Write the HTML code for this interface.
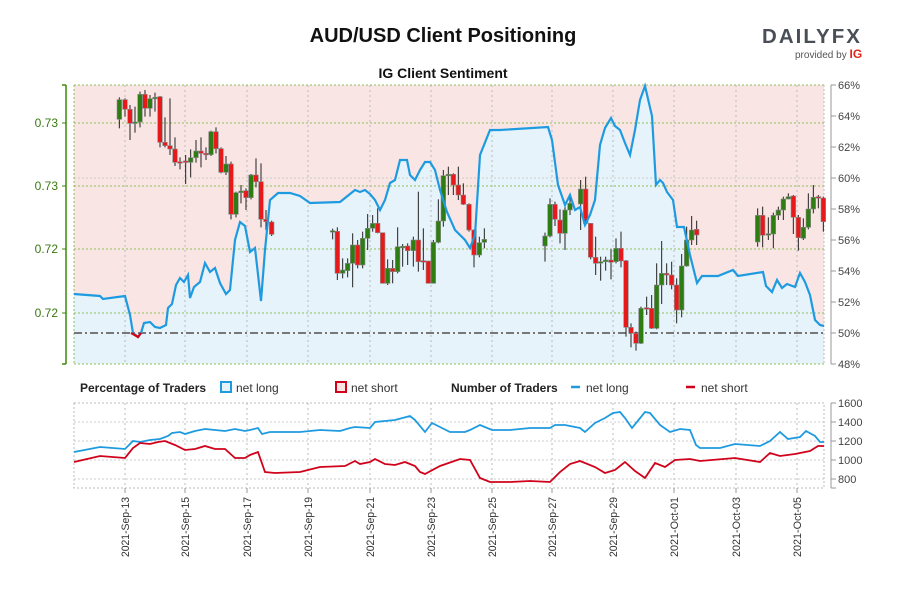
<!DOCTYPE html>
<html><head><meta charset="utf-8"><style>
body{margin:0;background:#fff;width:900px;height:600px;overflow:hidden;font-family:"Liberation Sans",sans-serif}
</style></head><body>
<svg id="s" width="900" height="600" xmlns="http://www.w3.org/2000/svg" font-family="Liberation Sans, sans-serif">
<text x="443" y="42" text-anchor="middle" font-size="20" font-weight="bold" fill="#111">AUD/USD Client Positioning</text>
<text x="443" y="78" text-anchor="middle" font-size="14" font-weight="bold" fill="#111">IG Client Sentiment</text>
<text x="762" y="43" font-size="20" font-weight="bold" fill="#4a4f57" letter-spacing="2" textLength="100" lengthAdjust="spacingAndGlyphs">DAILYFX</text>
<text x="795" y="58" font-size="10" fill="#555">provided by <tspan fill="#e2231a" font-weight="bold" font-size="12">IG</tspan></text>
<rect x="74" y="85" width="750" height="279" fill="#fae5e5"/>
<g id="main"></g>
<g id="bot"></g>
</svg>
<script>
const NS="http://www.w3.org/2000/svg";
function el(p,t,a,txt){const e=document.createElementNS(NS,t);for(const k in a)e.setAttribute(k,a[k]);if(txt!=null)e.textContent=txt;p.appendChild(e);return e;}
const m=document.getElementById('main'),b=document.getElementById('bot');
const pl=[[74,294],[100,296],[103,299],[125,296],[130,315],[133,333],[138,337],[141,333],[144,323],[150,322],[155,327],[160,328],[166,325],[168,308],[172,304],[176,285],[180,278],[184,282],[188,275],[190,298],[194,287],[200,282],[205,263],[210,272],[215,268],[220,283],[226,294],[230,290],[235,240],[240,222],[245,226],[250,252],[255,248],[261,301],[265,250],[270,200],[278,193],[290,193],[300,196],[310,203],[340,202],[355,190],[360,192],[365,190],[370,194],[375,200],[380,210],[385,200],[390,183],[395,180],[400,160],[407,160],[410,175],[415,180],[420,170],[425,162],[430,162],[435,170],[440,190],[447,212],[455,230],[465,240],[470,248],[475,235],[480,155],[490,130],[500,130],[548,127],[552,140],[558,185],[565,205],[570,195],[575,210],[580,207],[585,225],[590,215],[595,200],[600,145],[605,128],[611,118],[615,126],[620,130],[625,143],[630,155],[635,130],[640,100],[645,86],[652,116],[656,185],[660,180],[663,183],[667,192],[673,200],[677,227],[684,227],[690,255],[697,283],[702,276],[718,276],[733,270],[738,276],[763,272],[766,286],[772,292],[777,280],[782,288],[787,284],[795,287],[800,273],[805,282],[810,295],[815,320],[820,325],[824,326]];
el(m,'polygon',{points:pl.map(p=>p.join(',')).join(' ')+' 824,364 74,364',fill:'#e6f3fb'});
[123,186,249,313].forEach(y=>el(m,'line',{x1:74,x2:824,y1:y,y2:y,stroke:'#8fbf5a','stroke-dasharray':'2,2','stroke-width':1}));
[85,364].forEach(y=>el(m,'line',{x1:74,x2:824,y1:y,y2:y,stroke:'#8fbf5a','stroke-dasharray':'2,2'}));
el(m,'line',{x1:74,x2:824,y1:178,y2:178,stroke:'#ccc','stroke-dasharray':'2,2'});
const dx=[125,185,247,308,370,431,492,552,613,674,736,797];
dx.forEach(x=>{el(m,'line',{x1:x,x2:x,y1:85,y2:364,stroke:'#bbb','stroke-dasharray':'2,3'});el(b,'line',{x1:x,x2:x,y1:403,y2:488,stroke:'#bbb','stroke-dasharray':'2,3'});});
el(m,'line',{x1:74,x2:74,y1:85,y2:364,stroke:'#8fbf5a','stroke-dasharray':'2,2'});
el(m,'line',{x1:824,x2:824,y1:85,y2:364,stroke:'#bbb','stroke-dasharray':'2,2'});
el(m,'line',{x1:74,x2:824,y1:333,y2:333,stroke:'#777','stroke-width':2,'stroke-dasharray':'8,3,2,3'});
const C=[];
function g1(arr,ox,oy,s){arr.forEach(a=>C.push([ox+a[0]/s,a[1],oy+a[2]/s,oy+a[3]/s,oy+a[4]/s,oy+a[5]/s]));}
g1([[358,'g',119,178,112,205],[375,'r',119,148,115,170],[390,'r',148,190,135,240],[405,'g',186,190,140,218],[420,'g',103,186,95,202],[435,'r',103,145,90,170],[450,'g',116,145,105,170],[465,'g',112,116,98,155],[480,'r',110,247,108,262],[495,'r',247,257,172,262],[510,'r',257,267,115,285],[525,'r',267,307,232,318],[540,'r',305,308,292,328],[557,'r',303,307,285,372],[572,'g',293,307,268,352],[588,'g',273,293,240,308],[603,'r',273,280,232,322],[618,'r',280,284,262,300],[633,'g',215,284,212,288],[648,'r',215,266,202,280],[663,'r',266,337,262,340],[678,'g',312,337,288,345],[693,'r',312,463,305,478],[708,'g',398,463,395,472],[723,'g',393,398,375,430],[738,'r',392,413,385,450],[753,'g',345,413,342,418],[768,'r',345,365,295,382],[783,'r',365,478,310,502],[798,'r',478,485,450,510],[815,'r',486,523,482,528]],0,60,3);
g1([[38,'g',242,244,236,268],[52,'r',244,370,232,390],[68,'g',360,370,325,385],[83,'g',340,362,325,382],[98,'g',285,340,250,412],[113,'r',285,345,270,355],[128,'g',265,345,245,355],[143,'g',235,265,192,300],[158,'g',220,235,195,245],[173,'r',220,248,175,250],[188,'r',248,400,248,400],[203,'g',355,400,328,405],[218,'r',355,365,330,400],[233,'g',290,365,232,370],[248,'g',289,291,282,350],[263,'r',288,302,280,345],[280,'g',270,302,260,350],[295,'r',270,335,125,365],[310,'r',332,335,235,360],[325,'r',333,400,333,400],[340,'g',277,400,270,400],[355,'g',213,277,148,280],[370,'g',77,213,60,230],[385,'g',73,75,50,135],[400,'r',73,105,70,135],[415,'r',105,135,50,150],[430,'r',135,163,100,165],[447,'r',163,240,160,245],[462,'r',240,315,238,352],[478,'g',278,315,260,322],[493,'g',268,277,235,295]],320,150,3);
g1([[45,'g',168,198,158,245],[60,'g',73,168,55,172],[75,'r',73,118,65,138],[90,'r',120,160,88,190],[105,'g',90,160,80,210],[120,'g',70,90,50,105],[152,'g',27,72,0,150],[167,'r',27,130,-10,135],[182,'r',130,232,130,238],[197,'r',232,250,170,285],[212,'g',245,248,230,302],[227,'g',240,245,230,272],[243,'r',240,247,208,298],[258,'g',205,245,175,250],[273,'r',205,243,155,262],[288,'r',242,442,240,470],[303,'r',442,460,430,502],[318,'r',460,490,455,512],[333,'g',385,490,380,492],[350,'r',383,385,350,405],[365,'r',385,445,345,447],[380,'g',315,445,250,448],[395,'g',280,315,183,372],[410,'r',280,285,250,315],[425,'r',285,315,245,328],[440,'r',315,390,295,430],[455,'g',258,390,222,412],[470,'g',180,258,140,260],[485,'g',150,180,108,195],[500,'r',148,165,122,195]],530,180,3);
g1([[473,'g',466,546,445,560],[488,'r',466,526,440,562],[505,'g',521,525,472,540],[520,'g',466,522,458,565],[535,'g',450,466,440,480],[550,'g',417,450,410,480],[565,'g',410,417,400,418],[580,'r',408,472,405,522],[595,'r',472,533,465,572],[610,'g',502,535,475,540],[625,'g',447,502,400,508],[640,'g',412,447,375,460],[655,'r',410,414,405,445],[670,'r',414,485,410,515]],600,60,3);
C.forEach(c=>{const[x,col,t,bb,h,l]=c;el(m,'line',{x1:x,x2:x,y1:h,y2:l,stroke:'#222','stroke-width':1});el(m,'rect',{x:x-2.3,y:t,width:4.6,height:Math.max(bb-t,1.5),fill:col=='g'?'#2e7d12':'#e8191a',stroke:'#888','stroke-width':0.6});});
el(m,'polyline',{points:pl.map(p=>p.join(',')).join(' '),fill:'none',stroke:'#1e9be0','stroke-width':2.2});
el(m,'polyline',{points:'131,333 133,334 138,337 141,333',fill:'none',stroke:'#d0021b','stroke-width':2.2});
el(m,'line',{x1:66,x2:66,y1:85,y2:364,stroke:'#3a8a0a','stroke-width':1.5});
[85,364].forEach(y=>el(m,'line',{x1:62,x2:66,y1:y,y2:y,stroke:'#3a8a0a','stroke-width':1.5}));
[[123,'0.73'],[186,'0.73'],[249,'0.72'],[313,'0.72']].forEach(a=>{el(m,'line',{x1:62,x2:66,y1:a[0],y2:a[0],stroke:'#3a8a0a'});el(m,'text',{x:58,y:a[0]+4,'text-anchor':'end','font-size':12,fill:'#3a7a10'},a[1]);});
el(m,'line',{x1:831,x2:831,y1:85,y2:364,stroke:'#999','stroke-width':1});
for(let i=0;i<10;i++){const y=85+i*31;el(m,'line',{x1:831,x2:836,y1:y,y2:y,stroke:'#999'});el(m,'text',{x:838,y:y+4,'font-size':11,fill:'#444'},(66-2*i)+'%');}
el(b,'rect',{x:74,y:403,width:750,height:85,fill:'none',stroke:'#bbb','stroke-dasharray':'2,2'});
[422,441,460,479].forEach(y=>el(b,'line',{x1:74,x2:824,y1:y,y2:y,stroke:'#ccc','stroke-dasharray':'2,2'}));
el(b,'line',{x1:831,x2:831,y1:403,y2:488,stroke:'#999'});
[[403,'1600'],[422,'1400'],[441,'1200'],[460,'1000'],[479,'800']].forEach(a=>{el(b,'line',{x1:831,x2:836,y1:a[0],y2:a[0],stroke:'#999'});el(b,'text',{x:838,y:a[0]+4,'font-size':11,fill:'#444'},a[1]);});
el(b,'line',{x1:831,x2:836,y1:488,y2:488,stroke:'#999'});
const bl=[[74,452],[100,447],[125,449],[133,441],[140,442],[150,440],[160,439],[168,436],[172,433],[180,432],[185,434],[195,431],[205,429],[215,430],[225,431],[235,429],[245,431],[250,430],[258,428],[262,434],[270,432],[280,432],[300,432],[320,430],[340,431],[350,428],[355,427],[370,428],[375,422],[385,421],[395,420],[410,416],[415,420],[425,432],[432,423],[440,427],[450,432],[465,432],[470,430],[480,425],[492,430],[510,430],[530,428],[550,428],[555,425],[565,425],[580,428],[585,432],[595,423],[605,418],[613,413],[620,412],[625,418],[632,428],[645,412],[650,413],[660,425],[670,432],[680,429],[690,430],[696,445],[700,448],[720,448],[735,444],[760,446],[770,441],[780,432],[788,439],[800,437],[806,431],[815,436],[820,442],[824,442]];
const rl=[[74,462],[100,456],[125,458],[133,448],[140,443],[150,444],[158,442],[165,441],[175,445],[185,450],[195,449],[205,446],[215,449],[225,449],[235,458],[245,458],[250,455],[258,452],[265,472],[275,473],[300,472],[320,467],[345,466],[355,461],[360,464],[370,462],[375,459],[385,464],[395,465],[405,462],[415,466],[420,472],[425,474],[440,466],[460,459],[470,460],[480,478],[490,482],[510,482],[530,481],[550,482],[560,472],[570,464],[580,461],[595,467],[605,473],[615,470],[625,462],[635,471],[645,478],[655,463],[665,467],[675,460],[690,459],[700,461],[735,458],[760,462],[770,453],[780,456],[795,454],[810,451],[818,446],[824,446]];
el(b,'polyline',{points:bl.map(p=>p.join(',')).join(' '),fill:'none',stroke:'#1e9be0','stroke-width':1.8});
el(b,'polyline',{points:rl.map(p=>p.join(',')).join(' '),fill:'none',stroke:'#d0021b','stroke-width':1.8});
el(b,'text',{x:80,y:392,'font-size':12,'font-weight':'bold',fill:'#222'},'Percentage of Traders');
el(b,'rect',{x:221,y:382,width:10,height:10,fill:'#e6f3fb',stroke:'#1e9be0','stroke-width':2});
el(b,'text',{x:236,y:392,'font-size':12,fill:'#333'},'net long');
el(b,'rect',{x:336,y:382,width:10,height:10,fill:'#fae5e5',stroke:'#d0021b','stroke-width':2});
el(b,'text',{x:351,y:392,'font-size':12,fill:'#333'},'net short');
el(b,'text',{x:451,y:392,'font-size':12,'font-weight':'bold',fill:'#222'},'Number of Traders');
el(b,'line',{x1:571,x2:580,y1:387,y2:387,stroke:'#1e9be0','stroke-width':2.5});
el(b,'text',{x:586,y:392,'font-size':12,fill:'#333'},'net long');
el(b,'line',{x1:686,x2:695,y1:387,y2:387,stroke:'#d0021b','stroke-width':2.5});
el(b,'text',{x:701,y:392,'font-size':12,fill:'#333'},'net short');
const dl=['2021-Sep-13','2021-Sep-15','2021-Sep-17','2021-Sep-19','2021-Sep-21','2021-Sep-23','2021-Sep-25','2021-Sep-27','2021-Sep-29','2021-Oct-01','2021-Oct-03','2021-Oct-05'];
dx.forEach((x,i)=>{el(b,'line',{x1:x,x2:x,y1:488,y2:493,stroke:'#999'});el(b,'text',{x:x+4,y:497,'font-size':11,fill:'#333','text-anchor':'end',textLength:60,lengthAdjust:'spacingAndGlyphs',transform:`rotate(-90 ${x+4} 497)`},dl[i]);});
</script>
</body></html>
